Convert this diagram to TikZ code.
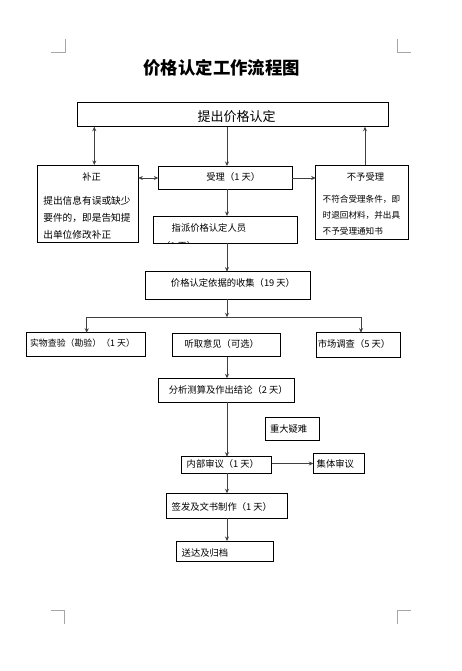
\documentclass[tikz,border=0pt]{standalone}
\usepackage{fontspec}
\setmainfont{Noto Sans CJK SC}
\usetikzlibrary{arrows.meta}
\tikzset{
  box/.style={draw=black, line width=0.8pt, inner sep=0pt, outer sep=0pt},
  txt/.style={inner sep=0pt, outer sep=0pt, font=\fontsize{9.3}{16.5}\selectfont, text=black},
  arr/.style={draw=black!75, line width=0.9pt, -{Stealth[length=4.5pt,width=4pt]}},
  darr/.style={draw=black!75, line width=0.9pt, {Stealth[length=4.5pt,width=4pt]}-{Stealth[length=4.5pt,width=4pt]}},
  ln/.style={draw=black!75, line width=0.9pt},
  crop/.style={draw=black!35, line width=0.8pt}
}
\newcommand{\bx}[5]{\node[box, minimum width={#4-#2}, minimum height={#5-#3}] (#1) at ({(#2+#4)/2},{(#3+#5)/2}) {};}
\begin{document}
\begin{tikzpicture}[x=1pt,y=-1pt]
\useasboundingbox (0,0) rectangle (462,671);
\fill[white] (0,0) rectangle (462,671);
% crop marks
\draw[crop] (51,52.3) -- (65,52.3) -- (65,39.3);
\draw[crop] (397.3,39.3) -- (397.3,52.3) -- (410.7,52.3);
\draw[crop] (51,610.7) -- (64.3,610.7) -- (64.3,624.3);
\draw[crop] (397.3,624.3) -- (397.3,610.7) -- (410.7,610.7);
% title
\node[inner sep=0pt, font=\fontsize{17.4}{20}\selectfont\bfseries] (title) at (221.7,68.3) {价格认定工作流程图};
% boxes
\bx{top}{77.3}{102.7}{388.3}{126.7}
\bx{bz}{37.3}{165}{138.3}{242}
\bx{sl}{158.3}{166}{292.3}{189.3}
\bx{by}{315.7}{165}{408.3}{239}
\bx{zp}{153.3}{216}{297.3}{243.3}
\bx{sj}{145.7}{271.7}{310}{299}
\bx{sw}{26}{332.7}{145.7}{356.7}
\bx{tq}{172.7}{333.3}{280.7}{356.7}
\bx{sc}{316}{332.7}{400}{357.3}
\bx{fx}{158.3}{378.3}{294}{402.3}
\bx{zd}{265}{417.3}{319.3}{440}
\bx{nb}{181.7}{456.7}{271.7}{473.3}
\bx{jt}{313.3}{453.3}{364}{473.3}
\bx{qf}{166.7}{493.3}{287.3}{518.3}
\bx{sd}{176.7}{541}{273.3}{561.7}
% texts
\node[txt, font=\fontsize{13}{15}\selectfont] (ttop) at (236.7,116.3) {提出价格认定};
\node[txt] (tbz) at (91.7,177) {补正};
\node[txt, anchor=west, align=left, font=\fontsize{9.7}{17}\selectfont] (tbz2) at (43.3,217.3) {提出信息有误或缺少\\要件的，即是告知提\\出单位修改补正};
\node[txt] (tsl) at (233.3,177) {受理（1 天）};
\node[txt] (tby) at (365.5,177) {不予受理};
\node[txt, anchor=west, align=left, font=\fontsize{8.6}{16.2}\selectfont] (tby2) at (322.7,215.5) {不符合受理条件，即\\时退回材料，并出具\\不予受理通知书};
\node[txt, anchor=west] (tzp) at (171.7,227.7) {指派价格认定人员};
\begin{scope}
\clip (zp.south west) rectangle (zp.north east);
\node[txt, anchor=west] (tzp2) at (161,246.2) {（1 天）};
\end{scope}
\node[txt] (tsj) at (233,283.3) {价格认定依据的收集（19 天）};
\node[txt, font=\fontsize{8.9}{16}\selectfont] (tsw) at (82.5,343.6) {实物查验（勘验）（1 天）};
\node[txt] (ttq) at (221.7,343.6) {听取意见（可选）};
\node[txt] (tsc) at (354,343.6) {市场调查（5 天）};
\node[txt] (tfx) at (228.3,389.8) {分析测算及作出结论（2 天）};
\node[txt, anchor=west] (tzd) at (270,428.5) {重大疑难};
\node[txt, anchor=west] (tnb) at (186.7,464.3) {内部审议（1 天）};
\node[txt, anchor=west] (tjt) at (316.7,463.6) {集体审议};
\node[txt, anchor=west] (tqf) at (171.7,506.5) {签发及文书制作（1 天）};
\node[txt, anchor=west] (tsd) at (181.7,553) {送达及归档};
% helper coordinates
\coordinate (cx) at (227,0);
\coordinate (lx) at (94.3,0);
\coordinate (rx) at (365,0);
\coordinate (ry) at (0,178);
\coordinate (hy) at (0,317.3);
\coordinate (hl) at (86.7,317.3);
\coordinate (hr) at (361,317.3);
\coordinate (jy) at (0,463.5);
% connectors
\draw[darr] (top.south -| lx) -- (bz.north -| lx);
\draw[arr] (top.south -| cx) -- (sl.north -| cx);
\draw[arr] (by.north -| rx) -- (top.south -| rx);
\draw[darr] (bz.east |- ry) -- (sl.west |- ry);
\draw[arr] (sl.east |- ry) -- (by.west |- ry);
\draw[arr] (sl.south -| cx) -- (zp.north -| cx);
\draw[arr] (zp.south -| cx) -- (sj.north -| cx);
\draw[arr] (sj.south -| cx) -- (hy -| cx);
\draw[ln] (hl) -- (hr);
\draw[arr] (hl) -- (sw.north -| hl);
\draw[arr] (hr) -- (sc.north -| hr);
\draw[arr] (tq.south -| cx) -- (fx.north -| cx);
\draw[arr] (fx.south -| cx) -- (nb.north -| cx);
\draw[arr] (nb.east |- jy) -- (jt.west |- jy);
\draw[arr] (nb.south -| cx) -- (qf.north -| cx);
\draw[arr] (qf.south -| cx) -- (sd.north -| cx);
\end{tikzpicture}
\end{document}
